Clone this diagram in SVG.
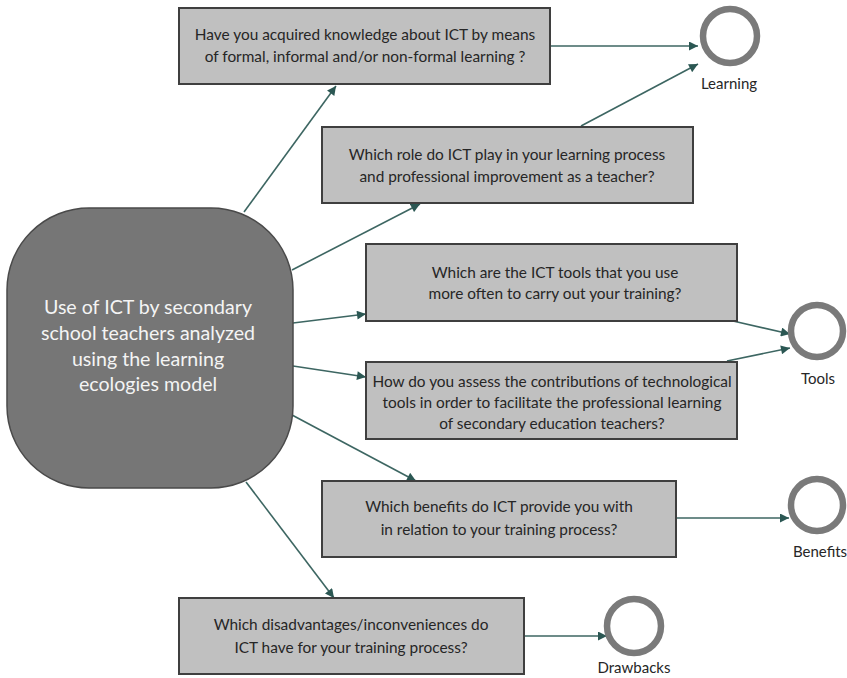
<svg xmlns="http://www.w3.org/2000/svg" width="847" height="678" viewBox="0 0 847 678">
<defs>
<marker id="ah" viewBox="0 0 10 10" refX="10" refY="5" markerWidth="10" markerHeight="9" markerUnits="userSpaceOnUse" orient="auto">
<path d="M0,0 L10,5 L0,10 z" fill="#2b5753"/>
</marker>
<style>
.box{fill:#c0c0c0;stroke:#3f3f3f;stroke-width:2}
.bt{font-family:Lato,"Liberation Sans",sans-serif;font-size:15.4px;fill:#262626;text-anchor:middle}
.ring{fill:none;stroke:#7a7a7a;stroke-width:6.5}
.lbl{font-family:Lato,"Liberation Sans",sans-serif;font-size:15px;fill:#262626;text-anchor:middle}
.c{stroke:#3d6662;stroke-width:1.6;fill:none;marker-end:url(#ah)}
.mt{font-family:Lato,"Liberation Sans",sans-serif;font-size:19.6px;fill:#f4f4f4;text-anchor:middle}
</style>
</defs>
<rect width="847" height="678" fill="#ffffff"/>
<g id="connectors">
<line class="c" x1="244" y1="212" x2="336" y2="86"/>
<line class="c" x1="292" y1="270" x2="420" y2="204"/>
<line class="c" x1="293" y1="323" x2="366" y2="314"/>
<line class="c" x1="293" y1="366" x2="366" y2="377"/>
<line class="c" x1="292" y1="415" x2="416" y2="481"/>
<line class="c" x1="246" y1="482" x2="334" y2="598"/>
<line class="c" x1="550" y1="46" x2="698" y2="46"/>
<line class="c" x1="581" y1="126" x2="698" y2="64"/>
<line class="c" x1="733" y1="321" x2="790" y2="334"/>
<line class="c" x1="727" y1="361" x2="790" y2="348"/>
<line class="c" x1="676" y1="518" x2="789" y2="518"/>
<line class="c" x1="524" y1="636" x2="607" y2="636"/>
</g>
<g id="center">
<rect x="7" y="208" width="286" height="280" rx="82" ry="82" fill="#767676" stroke="#4a4a4a" stroke-width="1.5"/>
<text class="mt" x="148" y="314">Use of ICT by secondary</text>
<text class="mt" x="148" y="340">school teachers analyzed</text>
<text class="mt" x="148" y="366">using the learning</text>
<text class="mt" x="148" y="391">ecologies model</text>
</g>
<g id="q1">
<rect class="box" x="179" y="8" width="371" height="76"/>
<text class="bt" x="365" y="40">Have you acquired knowledge about ICT by means</text>
<text class="bt" x="365" y="62">of formal, informal and/or non-formal learning ?</text>
</g>
<g id="q2">
<rect class="box" x="322" y="127" width="371" height="76"/>
<text class="bt" x="507" y="160">Which role do ICT play in your learning process</text>
<text class="bt" x="507" y="182">and professional improvement as a teacher?</text>
</g>
<g id="q3">
<rect class="box" x="366" y="244" width="371" height="77"/>
<text class="bt" x="555" y="278">Which are the ICT tools that you use</text>
<text class="bt" x="555" y="299">more often to carry out your training?</text>
</g>
<g id="q4">
<rect class="box" x="366" y="362" width="371" height="77"/>
<text class="bt" x="552" y="387">How do you assess the contributions of technological</text>
<text class="bt" x="552" y="408">tools in order to facilitate the professional learning</text>
<text class="bt" x="552" y="429">of secondary education teachers?</text>
</g>
<g id="q5">
<rect class="box" x="322" y="481" width="354" height="76"/>
<text class="bt" x="499" y="512">Which benefits do ICT provide you with</text>
<text class="bt" x="499" y="535">in relation to your training process?</text>
</g>
<g id="q6">
<rect class="box" x="179" y="598" width="345" height="76"/>
<text class="bt" x="351" y="630">Which disadvantages/inconveniences do</text>
<text class="bt" x="351" y="653">ICT have for your training process?</text>
</g>
<g id="learning">
<circle class="ring" cx="730" cy="36" r="27"/>
<text class="lbl" x="729" y="89">Learning</text>
</g>
<g id="tools">
<circle class="ring" cx="817" cy="331" r="26"/>
<text class="lbl" x="818" y="384">Tools</text>
</g>
<g id="benefits">
<circle class="ring" cx="817" cy="505" r="26"/>
<text class="lbl" x="820" y="557">Benefits</text>
</g>
<g id="drawbacks">
<circle class="ring" cx="634" cy="626" r="27"/>
<text class="lbl" x="634" y="673">Drawbacks</text>
</g>
</svg>
